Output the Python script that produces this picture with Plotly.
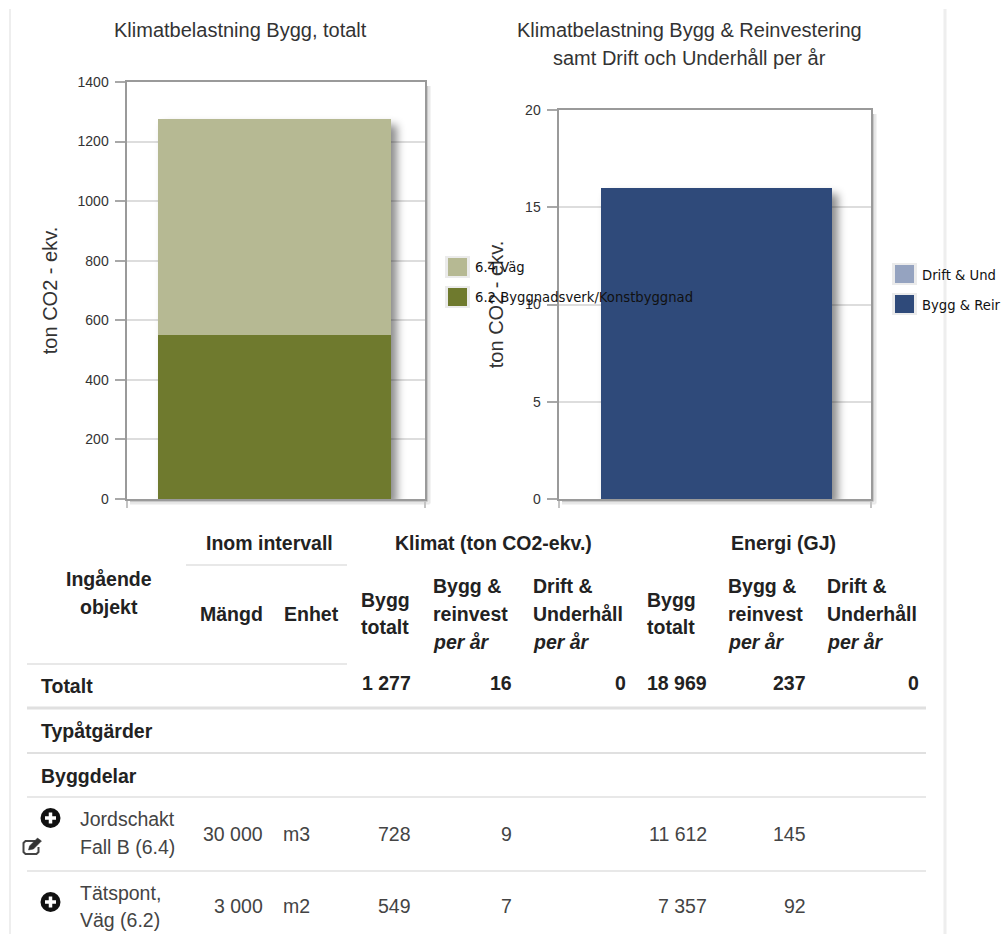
import plotly.graph_objects as go

W, H = 1005, 934

# Chart values
category = ["Total"]
vag_total = [728]
byggnadsverk_total = [549]
bygg_reinvest = [16]
drift_underhall = [0]

left_ticks = [0, 200, 400, 600, 800, 1000, 1200, 1400]
right_ticks = [0, 5, 10, 15, 20]

# Table values
col_klimat_bygg = [728, 549]
col_klimat_reinvest = [9, 7]
col_energi_bygg = [11612, 7357]
col_energi_reinvest = [145, 92]
totals = [1277, 16, 0, 18969, 237, 0]
quantities = [30000, 3000]
units = ["m3", "m2"]
object_names = [["Jordschakt", "Fall B (6.4)"], ["Tätspont,", "Väg (6.2)"]]

SANS = "Liberation Sans"
LEGEND_FONT = "DejaVu Sans"
BLACK = "#222222"
GREY = "#444444"
RULE = "#e0e0e0"
FRAME = "#9a9a9a"
TABLE_SIZE = 19.5


def px(x):
    return x / W


def py(y):
    return 1 - y / H


def num(v):
    return f"{v:,}".replace(",", " ")


annotations = []
shapes = []


def text(x, y, s, size=TABLE_SIZE, color=GREY, anchor="left", family=SANS, bold=False, italic=False):
    if bold:
        s = f"<b>{s}</b>"
    if italic:
        s = f"<i>{s}</i>"
    annotations.append(dict(
        x=px(x), y=py(y), xref="paper", yref="paper", text=s, showarrow=False,
        xanchor=anchor, yanchor="middle", borderpad=0, borderwidth=0,
        font=dict(family=family, size=size, color=color),
    ))


def hline(x0, x1, y, width=1.5, color=RULE, layer="above"):
    shapes.append(dict(type="line", xref="paper", yref="paper", x0=px(x0), x1=px(x1),
                       y0=py(y), y1=py(y), layer=layer, line=dict(color=color, width=width)))


def vline(x, y0, y1, width=1.5, color=RULE, layer="above"):
    shapes.append(dict(type="line", xref="paper", yref="paper", x0=px(x), x1=px(x),
                       y0=py(y0), y1=py(y1), layer=layer, line=dict(color=color, width=width)))


def box(x0, y0, x1, y1, fill):
    shapes.append(dict(type="rect", xref="paper", yref="paper", x0=px(x0), x1=px(x1),
                       y0=py(y0), y1=py(y1), fillcolor=fill, layer="above",
                       line=dict(color=fill, width=0)))


def plus_icon(cx, cy):
    r = 10
    shapes.append(dict(type="circle", xref="paper", yref="paper", x0=px(cx - r), x1=px(cx + r),
                       y0=py(cy - r), y1=py(cy + r), fillcolor="#111111", layer="above",
                       line=dict(color="#111111", width=0)))
    hline(cx - 5.5, cx + 5.5, cy, width=3.5, color="white")
    vline(cx, cy - 5.5, cy + 5.5, width=3.5, color="white")


def edit_icon(x0, y0):
    pts = [(x0 + 13, y0 + 4), (x0 + 3, y0 + 4), (x0 + 1, y0 + 6), (x0 + 1, y0 + 15),
           (x0 + 3, y0 + 17), (x0 + 14, y0 + 17), (x0 + 16, y0 + 15), (x0 + 16, y0 + 10)]
    path = "M " + " L ".join(f"{px(a)},{py(b)}" for a, b in pts)
    shapes.append(dict(type="path", xref="paper", yref="paper", path=path, layer="above",
                       line=dict(color="#444444", width=2)))
    pen = [(x0 + 6, y0 + 13), (x0 + 7, y0 + 9), (x0 + 15, y0 + 1), (x0 + 19, y0 + 4),
           (x0 + 11, y0 + 12)]
    path = "M " + " L ".join(f"{px(a)},{py(b)}" for a, b in pen) + " Z"
    shapes.append(dict(type="path", xref="paper", yref="paper", path=path, layer="above",
                       fillcolor="#333333", line=dict(color="#333333", width=0.5)))


fig = go.Figure()

# Left chart: stacked climate load per building part
fig.add_bar(x=[0], y=byggnadsverk_total, width=0.78, marker=dict(color="#6f7a2e", line_width=0),
            name="6.2 Byggnadsverk/Konstbyggnad", xaxis="x", yaxis="y", showlegend=False,
            hovertext=category)
fig.add_bar(x=[0], y=vag_total, width=0.78, marker=dict(color="#b6b993", line_width=0),
            name="6.4 Väg", xaxis="x", yaxis="y", showlegend=False, hovertext=category)

# Right chart: yearly load
fig.add_bar(x=[0], y=bygg_reinvest, width=0.74, marker=dict(color="#2f4a7a", line_width=0),
            name="Bygg & Reinvestering", xaxis="x2", yaxis="y2", showlegend=False,
            hovertext=category)
fig.add_bar(x=[0], y=drift_underhall, width=0.74, marker=dict(color="#95a3c0", line_width=0),
            name="Drift & Underhåll", xaxis="x2", yaxis="y2", showlegend=False,
            hovertext=category)


def x_axis(x0, x1, shift, partner):
    return dict(domain=[px(x0), px(x1)], range=[-0.5 + shift, 0.5 + shift], anchor=partner,
                tickmode="array", tickvals=[-0.5 + shift, 0.5 + shift],
                ticktext=["", ""], ticks="outside", ticklen=7, tickcolor="#c4c4c4", tickwidth=2,
                showgrid=False, zeroline=False, showline=True, linecolor=FRAME, linewidth=2,
                mirror=True, fixedrange=True)


def y_axis(y0, y1, rng, ticks, standoff, partner):
    return dict(domain=[py(y1), py(y0)], range=rng, anchor=partner, tickmode="array", tickvals=ticks,
                ticks="outside", ticklen=10, tickcolor="#a8a8a8", tickwidth=1.5,
                ticklabelstandoff=3,
                tickfont=dict(family=SANS, size=14, color="#333333"),
                showgrid=True, gridcolor="#dddddd", gridwidth=1.5, zeroline=False,
                showline=True, linecolor=FRAME, linewidth=2, mirror=True, fixedrange=True,
                title=dict(text="ton CO2 - ekv.", standoff=standoff,
                           font=dict(family=SANS, size=20, color="#333333")))


# Soft drop shadow along the right and bottom of each frame
for x0, x1, y0, y1 in [(126, 425, 82, 499), (558, 871, 110, 499)]:
    for off, shade in [(2.5, "#c8c8c8"), (4.5, "#e8e8e8")]:
        vline(x1 + off, y0 + 4, y1 + off, width=2, color=shade, layer="below")
        hline(x0 + 4, x1 + off, y1 + off, width=2, color=shade, layer="below")

# Page column borders
vline(10, 9, 934, width=2, color="#eeeeee")
vline(945, 9, 934, width=3, color="#eeeeee")

# Chart titles
TITLE_SIZE = 20
text(240, 30, "Klimatbelastning Bygg, totalt", size=TITLE_SIZE, color="#333333", anchor="center")
text(689, 30, "Klimatbelastning Bygg &amp; Reinvestering", size=TITLE_SIZE, color="#333333", anchor="center")
text(689, 58, "samt Drift och Underhåll per år", size=TITLE_SIZE, color="#333333", anchor="center")

# Chart keys
for x, y, color in [
    (445, 267, "#b6b993"),
    (445, 297, "#6f7a2e"),
    (892, 274, "#95a3c0"),
    (892, 304, "#2f4a7a"),
]:
    box(x, y - 11, x + 25, y + 11, "#ebebeb")
    box(x + 3, y - 9, x + 22, y + 9, color)

for x, y, label in [
    (475, 268, "6.4 Väg"),
    (475, 298, "6.2 Byggnadsverk/Konstbyggnad"),
    (922, 275, "Drift &amp; Und"),
    (922, 305, "Bygg &amp; Reir"),
]:
    text(x, y, label, size=13.2, color="#111111", family=LEGEND_FONT)

# Table header
text(269, 543, "Inom intervall", bold=True, color=BLACK, anchor="center")
text(493.5, 543, "Klimat (ton CO2-ekv.)", bold=True, color=BLACK, anchor="center")
text(783, 543, "Energi (GJ)", bold=True, color=BLACK, anchor="center")
text(109, 579, "Ingående", bold=True, color=BLACK, anchor="center")
text(109, 607, "objekt", bold=True, color=BLACK, anchor="center")
text(231, 614, "Mängd", bold=True, color=BLACK, anchor="center")
text(311, 614, "Enhet", bold=True, color=BLACK, anchor="center")
for x in (361, 647):
    text(x, 600, "Bygg", bold=True, color=BLACK)
    text(x, 627, "totalt", bold=True, color=BLACK)
for x, first, second in [(433, "Bygg &amp;", "reinvest"), (533, "Drift &amp;", "Underhåll"),
                         (728, "Bygg &amp;", "reinvest"), (827, "Drift &amp;", "Underhåll")]:
    text(x, 586, first, bold=True, color=BLACK)
    text(x, 614, second, bold=True, color=BLACK)
    text(x, 642, "per år", bold=True, italic=True, color=BLACK)

# Table rows
right_edges = [411, 512, 626, 707, 806, 919]
text(41, 686, "Totalt", bold=True, color=BLACK)
for x, v in zip(right_edges, totals):
    text(x, 683, num(v), bold=True, color=BLACK, anchor="right")
text(41, 731, "Typåtgärder", bold=True, color=BLACK)
text(41, 776, "Byggdelar", bold=True, color=BLACK)

for i, (row_y, line_a, line_b) in enumerate([(834, 819, 847), (906, 893, 920)]):
    text(80, line_a, object_names[i][0])
    text(80, line_b, object_names[i][1])
    text(263, row_y, num(quantities[i]), anchor="right")
    text(283, row_y, units[i])
    text(411, row_y, num(col_klimat_bygg[i]), anchor="right")
    text(512, row_y, num(col_klimat_reinvest[i]), anchor="right")
    text(707, row_y, num(col_energi_bygg[i]), anchor="right")
    text(806, row_y, num(col_energi_reinvest[i]), anchor="right")

# Table rules
hline(186, 347, 565)
hline(27, 347, 664)
hline(27, 926, 708, width=3)
hline(27, 926, 753, width=2)
hline(27, 926, 797)
hline(27, 926, 871)

# Row icons
plus_icon(50.5, 818)
plus_icon(50.5, 902)
edit_icon(22.5, 837)

fig.update_layout(
    width=W, height=H, margin=dict(l=0, r=0, t=0, b=0, autoexpand=False),
    paper_bgcolor="white", plot_bgcolor="white", barmode="stack", showlegend=False,
    font=dict(family=SANS),
    xaxis=x_axis(126.5, 425, 0.003, "y"),
    yaxis=y_axis(82, 499, [0, 1400], left_ticks, 15, "x"),
    xaxis2=x_axis(558.5, 871, -0.005, "y2"),
    yaxis2=y_axis(110, 499, [0, 20], right_ticks, 16, "x2"),
    shapes=shapes, annotations=annotations,
)

# Drop shadow behind the stacked bars
shadow_css = """
var style = document.createElement('style');
style.textContent = '.barlayer { filter: drop-shadow(6px 6px 4px rgba(0,0,0,0.45)); }';
document.head.appendChild(style);
"""

fig.write_html("out.html", config=dict(displayModeBar=False, responsive=False), post_script=shadow_css)
